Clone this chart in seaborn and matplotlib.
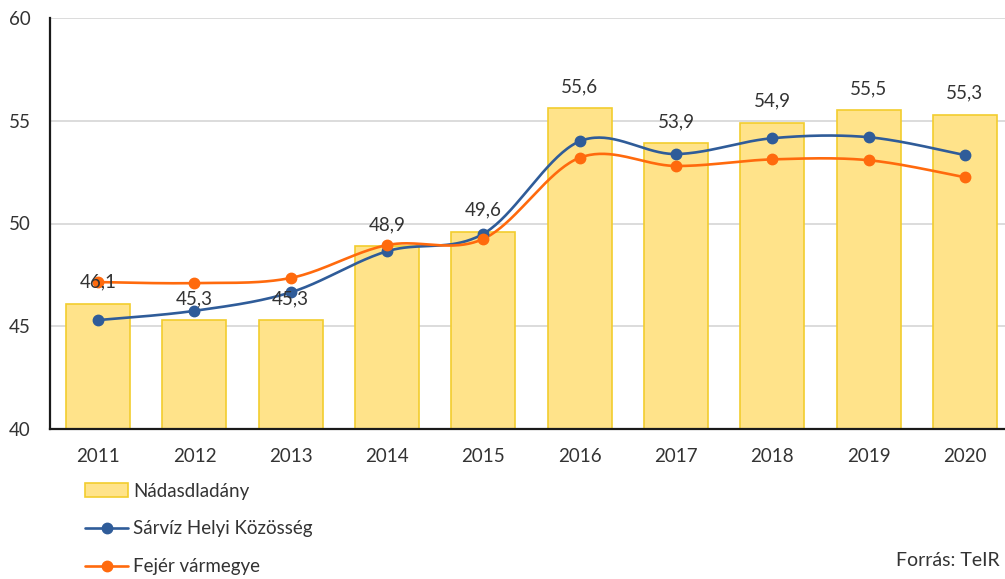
import numpy as np
import pandas as pd
import matplotlib
matplotlib.use("Agg")
import matplotlib.pyplot as plt
import seaborn as sns
from matplotlib.lines import Line2D
from matplotlib.patches import Patch

years = ["2011", "2012", "2013", "2014", "2015", "2016", "2017", "2018", "2019", "2020"]
nadasdladany = [46.1, 45.3, 45.3, 48.9, 49.6, 55.6, 53.9, 54.9, 55.5, 55.3]
sarviz = [45.3, 45.75, 46.65, 48.65, 49.5, 54.0, 53.38, 54.15, 54.2, 53.33]
fejer = [47.15, 47.1, 47.35, 48.95, 49.25, 53.2, 52.8, 53.12, 53.08, 52.25]
value_labels = ["46,1", "45,3", "45,3", "48,9", "49,6", "55,6", "53,9", "54,9", "55,5", "55,3"]
series_names = ["Nádasdladány", "Sárvíz Helyi Közösség", "Fejér vármegye"]
y_ticks = [40, 45, 50, 55, 60]

bar_fill = "#FFE38A"
bar_edge = "#F2CD2E"
blue = "#2F5C99"
orange = "#FF6A0D"
text_col = "#333333"
fs = 13.5

sns.set_theme(style="white")
plt.rcParams["font.family"] = ["Lato", "DejaVu Sans"]


def smooth(ys, n=40):
    pts = np.column_stack([np.arange(len(ys), dtype=float), np.asarray(ys, dtype=float)])
    out = []
    t = np.linspace(0, 1, n)[:, None]
    for i in range(len(pts) - 1):
        p0 = pts[i - 1] if i > 0 else pts[i]
        p1 = pts[i]
        p2 = pts[i + 1]
        p3 = pts[i + 2] if i + 2 < len(pts) else pts[i + 1]
        c1 = p1 + (p2 - p0) / 6.0
        c2 = p2 - (p3 - p1) / 6.0
        seg = ((1 - t) ** 3) * p1 + 3 * ((1 - t) ** 2) * t * c1 + 3 * (1 - t) * t ** 2 * c2 + t ** 3 * p2
        out.append(seg if i == 0 else seg[1:])
    arr = np.vstack(out)
    return arr[:, 0], arr[:, 1]


fig = plt.figure(figsize=(10.05, 5.79), dpi=100)
ax = fig.add_axes([50 / 1005, 150 / 579, 963 / 1005, 411 / 579])

df = pd.DataFrame({"Év": years, "Érték": nadasdladany})
sns.barplot(data=df, x="Év", y="Érték", color=bar_fill, edgecolor=bar_edge,
            linewidth=1.2, width=0.665, saturation=1, ax=ax, zorder=2)

for vals, col in [(sarviz, blue), (fejer, orange)]:
    sx, sy = smooth(vals)
    sns.lineplot(x=sx, y=sy, color=col, linewidth=1.9, ax=ax, zorder=3, sort=False)
    ax.plot(np.arange(len(vals)), vals, linestyle="none", marker="o", markersize=7.5,
            color=col, zorder=4)

for i, (v, lab) in enumerate(zip(nadasdladany, value_labels)):
    ax.annotate(lab, (i, v), xytext=(0, 15.5), textcoords="offset points",
                ha="center", va="center", fontsize=fs, color=text_col, zorder=6)

ax.set_xlim(-0.5, len(years) - 0.5)
ax.set_ylim(40, 60)
ax.set_yticks(y_ticks)
ax.set_yticklabels([str(t) for t in y_ticks])
ax.yaxis.grid(True, color="#D9D9D9", linewidth=1.3)
ax.xaxis.grid(False)
ax.set_axisbelow(True)
ax.set_xlabel("")
ax.set_ylabel("")
for s in ["top", "right"]:
    ax.spines[s].set_visible(False)
for s in ["left", "bottom"]:
    ax.spines[s].set_color("#1a1a1a")
    ax.spines[s].set_linewidth(1.6)
ax.tick_params(axis="y", length=0, pad=14, labelsize=fs, labelcolor=text_col)
ax.tick_params(axis="x", length=0, pad=13.5, labelsize=fs, labelcolor=text_col)

handles = [
    Patch(facecolor=bar_fill, edgecolor=bar_edge, linewidth=1.2),
    Line2D([0], [0], color=blue, lw=1.9, marker="o", markersize=7.5),
    Line2D([0], [0], color=orange, lw=1.9, marker="o", markersize=7.5),
]
fig.legend(handles, series_names, loc="upper left", bbox_to_anchor=(85 / 1005, 1 - 482.5 / 579),
           frameon=False, fontsize=fs, labelspacing=1.11, handlelength=2.3,
           handletextpad=0.27, borderpad=0, borderaxespad=0, labelcolor=text_col)

fig.text(1000 / 1005, 1 - 561 / 579, "Forrás: TeIR", ha="right", va="center",
         fontsize=14, color=text_col)

fig.savefig("out.png", dpi=100)
